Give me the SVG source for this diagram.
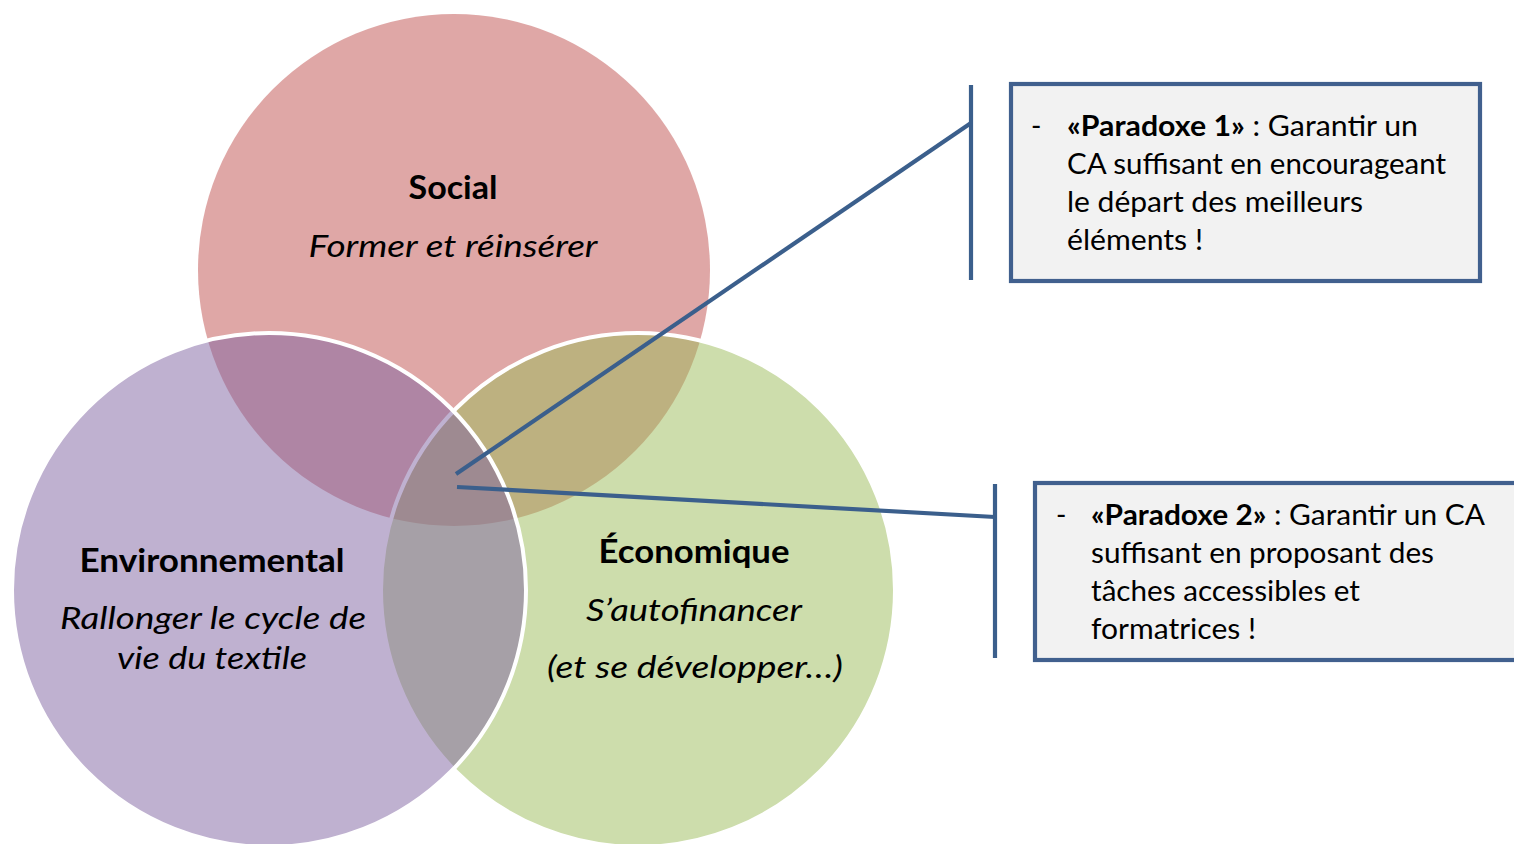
<svg xmlns="http://www.w3.org/2000/svg" width="1514" height="844" viewBox="0 0 1514 844">
<style>
.c{fill-opacity:0.5}
.ws{stroke:#FFFFFF;stroke-width:4}
.t{font-family:Lato,"Open Sans","Liberation Sans",sans-serif;fill:#000}
.h{font-size:33px;font-weight:bold;text-anchor:middle}
.i{font-size:31px;font-style:italic;text-anchor:middle}
.b{font-size:28px}
.con{stroke:#3B5F8C;stroke-width:4.2;fill:none}
.box{fill:#F2F2F2;stroke:#41608E;stroke-width:4.2}
</style>
<rect width="1514" height="844" fill="#FFFFFF"/>
<g id="social">
<circle class="c" cx="454" cy="270" r="256" fill="#C0504D"/>
</g>
<g id="economique">
<circle class="c ws" cx="638" cy="590" r="257" fill="#9BBB59"/>
</g>
<g id="environnemental">
<circle class="c ws" cx="269" cy="590" r="257" fill="#8064A2"/>
</g>
<g id="labels">
<text class="t h" x="453" y="199" textLength="89" lengthAdjust="spacingAndGlyphs">Social</text>
<text class="t i" x="453" y="257" textLength="289" lengthAdjust="spacingAndGlyphs">Former et réinsérer</text>
<text class="t h" x="212" y="572" textLength="265" lengthAdjust="spacingAndGlyphs">Environnemental</text>
<text class="t i" x="213" y="629" textLength="306" lengthAdjust="spacingAndGlyphs">Rallonger le cycle de</text>
<text class="t i" x="212" y="669" textLength="190" lengthAdjust="spacingAndGlyphs">vie du textile</text>
<text class="t h" x="694" y="563" textLength="191" lengthAdjust="spacingAndGlyphs">Économique</text>
<text class="t i" x="694" y="621" textLength="216" lengthAdjust="spacingAndGlyphs">S’autofinancer</text>
<text class="t i" x="695" y="678" textLength="296" lengthAdjust="spacingAndGlyphs">(et se développer…)</text>
</g>
<g id="connectors">
<polyline class="con" points="456,474 971,123"/>
<line class="con" x1="971" y1="85" x2="971" y2="280"/>
<polyline class="con" points="457,487 995,517"/>
<line class="con" x1="995" y1="484" x2="995" y2="658"/>
</g>
<g id="paradoxe1">
<rect class="box" x="1011" y="84" width="469" height="197"/>
<text class="t b" x="1031" y="136">-</text>
<text class="t b" x="1067" y="136" textLength="351" lengthAdjust="spacingAndGlyphs"><tspan font-weight="bold">«Paradoxe 1»</tspan> : Garantir un</text>
<text class="t b" x="1067" y="174" textLength="379" lengthAdjust="spacingAndGlyphs">CA suffisant en encourageant</text>
<text class="t b" x="1067" y="212" textLength="296" lengthAdjust="spacingAndGlyphs">le départ des meilleurs</text>
<text class="t b" x="1067" y="250" textLength="136" lengthAdjust="spacingAndGlyphs">éléments !</text>
</g>
<g id="paradoxe2">
<rect class="box" x="1035" y="483" width="500" height="177"/>
<text class="t b" x="1056" y="525">-</text>
<text class="t b" x="1091" y="525" textLength="394" lengthAdjust="spacingAndGlyphs"><tspan font-weight="bold">«Paradoxe 2»</tspan> : Garantir un CA</text>
<text class="t b" x="1091" y="563" textLength="343" lengthAdjust="spacingAndGlyphs">suffisant en proposant des</text>
<text class="t b" x="1091" y="601" textLength="269" lengthAdjust="spacingAndGlyphs">tâches accessibles et</text>
<text class="t b" x="1091" y="639" textLength="165" lengthAdjust="spacingAndGlyphs">formatrices !</text>
</g>
</svg>
